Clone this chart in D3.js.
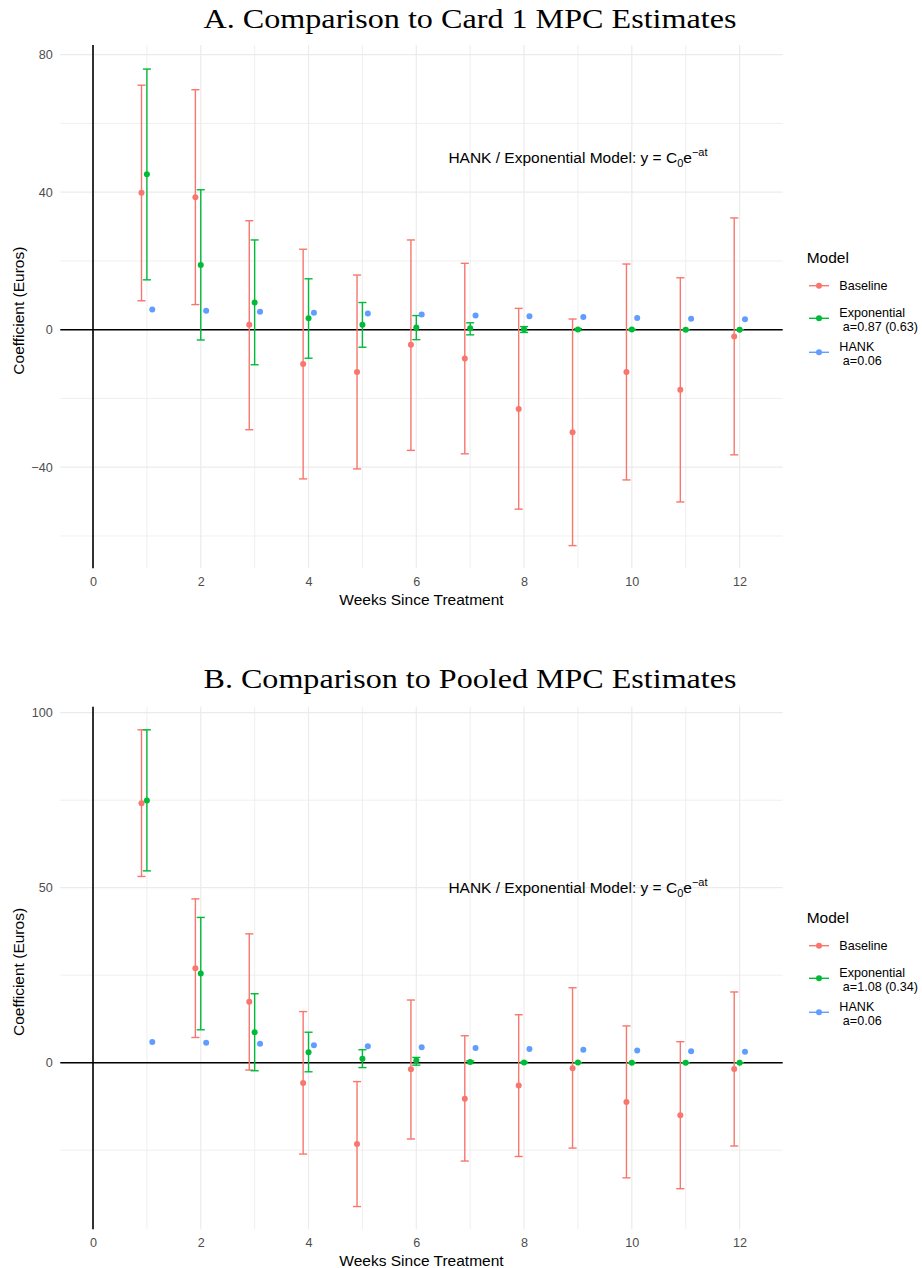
<!DOCTYPE html>
<html><head><meta charset="utf-8">
<script src="https://cdn.jsdelivr.net/npm/d3@7"></script>
<style>body{margin:0;background:#fff}svg{display:block}</style>
</head><body>
<svg id="chart" width="922" height="1268"></svg>
<script>
// ---------- data ----------
const weeks = [1,2,3,4,5,6,7,8,9,10,11,12];
const xTicks = [0,2,4,6,8,10,12];
const xMinor = [1,3,5,7,9,11];
const seriesNames = ["Baseline","Exponential","HANK"];
const seriesColors = ["#F8766D","#00BA38","#619CFF"];
const seriesOffset = [-0.1, 0, 0.1];

// Panel A: Card 1
const titleA = "A. Comparison to Card 1 MPC Estimates";
const yTicksA = [-40,0,40,80];
const yMinorA = [-60,-20,20,60];
const baseA    = [39.8,38.5,1.4,-10.0,-12.3,-4.4,-8.4,-23.1,-29.8,-12.3,-17.5,-2.0];
const baseALo  = [8.4,7.3,-29.1,-43.4,-40.5,-35.1,-36.1,-52.2,-62.8,-43.7,-50.1,-36.4];
const baseAHi  = [71.1,69.8,31.7,23.4,15.9,26.1,19.3,6.2,3.1,19.1,15.1,32.5];
const expA     = [45.2,18.8,7.9,3.3,1.4,0.6,0.4,0.1,0.05,0.02,0.01,0.0];
const expALo   = [14.5,-3.0,-10.2,-8.3,-5.1,-2.9,-1.5,-0.8,-0.2,-0.05,-0.02,-0.01];
const expAHi   = [75.8,40.7,26.1,14.8,7.9,4.1,2.0,0.9,0.3,0.1,0.04,0.01];
const hankA    = [5.9,5.5,5.2,4.9,4.7,4.4,4.1,3.9,3.7,3.4,3.2,3.0];
const legendA  = [["Baseline"],["Exponential"," a=0.87 (0.63)"],["HANK"," a=0.06"]];

// Panel B: Pooled
const titleB = "B. Comparison to Pooled MPC Estimates";
const yTicksB = [0,50,100];
const yMinorB = [-25,25,75];
const baseB    = [74.1,27.0,17.4,-5.8,-23.2,-1.9,-10.3,-6.5,-1.6,-11.2,-15.0,-1.8];
const baseBLo  = [53.2,7.2,-2.1,-26.1,-41.1,-21.8,-28.1,-26.8,-24.4,-32.9,-36.0,-23.8];
const baseBHi  = [95.1,46.8,36.8,14.6,-5.4,17.9,7.7,13.7,21.4,10.5,6.0,20.2];
const expB     = [74.9,25.5,8.7,3.0,1.1,0.6,0.2,0.06,0.02,0.01,0.0,0.0];
const expBLo   = [54.8,9.4,-2.3,-2.6,-1.4,-0.7,-0.2,-0.05,-0.02,-0.01,0.0,0.0];
const expBHi   = [95.1,41.5,19.7,8.7,3.7,1.5,0.5,0.15,0.05,0.02,0.01,0.0];
const hankB    = [5.9,5.7,5.4,5.0,4.7,4.4,4.2,3.9,3.7,3.5,3.3,3.1];
const legendB  = [["Baseline"],["Exponential"," a=1.08 (0.34)"],["HANK"," a=0.06"]];

const annotationX = 9, annotationY = 50;

// ---------- drawing ----------
const svg = d3.select("#chart");
const sans = "'Liberation Sans', Arial, Helvetica, sans-serif";
const serif = "'Liberation Serif', 'DejaVu Serif', serif";

function drawPanel(cfg) {
  const g = svg.append("g");
  const L = 60.3, R = 782.7, T = cfg.top, B = cfg.bottom;
  const x = d3.scaleLinear().domain([-0.607, 12.8]).range([L, R]);
  const y = d3.scaleLinear().domain(cfg.yDomain).range([B, T]);

  // title
  g.append("text").attr("x", 470).attr("y", cfg.titleY)
    .attr("text-anchor","middle").attr("font-family", serif)
    .attr("font-size", 28).attr("fill","#000")
    .attr("textLength", 533).attr("lengthAdjust","spacingAndGlyphs")
    .text(cfg.title);

  // gridlines
  const grid = g.append("g");
  grid.selectAll(".ym").data(cfg.yMinor).join("line")
    .attr("x1", L).attr("x2", R).attr("y1", d=>y(d)).attr("y2", d=>y(d))
    .attr("stroke","#ebebeb").attr("stroke-width",0.8);
  grid.selectAll(".xm").data(xMinor).join("line")
    .attr("x1", d=>x(d)).attr("x2", d=>x(d)).attr("y1", T).attr("y2", B)
    .attr("stroke","#ebebeb").attr("stroke-width",0.8);
  grid.selectAll(".yM").data(cfg.yTicks).join("line")
    .attr("x1", L).attr("x2", R).attr("y1", d=>y(d)).attr("y2", d=>y(d))
    .attr("stroke","#ebebeb").attr("stroke-width",1.2);
  grid.selectAll(".xM").data(xTicks).join("line")
    .attr("x1", d=>x(d)).attr("x2", d=>x(d)).attr("y1", T).attr("y2", B)
    .attr("stroke","#ebebeb").attr("stroke-width",1.2);

  // axes labels via d3 axes
  const ax = g.append("g").attr("transform",`translate(0,${B})`)
    .call(d3.axisBottom(x).tickValues(xTicks).tickSize(0).tickPadding(9.2).tickFormat(d3.format("d")));
  ax.select(".domain").remove();
  ax.selectAll("text").attr("font-family", sans).attr("font-size", 12.6).attr("fill","#4D4D4D");
  const ay = g.append("g").attr("transform",`translate(${L},0)`)
    .call(d3.axisLeft(y).tickValues(cfg.yTicks).tickSize(0).tickPadding(7.6).tickFormat(d => d<0 ? "\u2212"+Math.abs(d) : d));
  ay.select(".domain").remove();
  ay.selectAll("text").attr("font-family", sans).attr("font-size", 12.6).attr("fill","#4D4D4D");

  // axis titles
  g.append("text").attr("x", (L+R)/2).attr("y", B+37)
    .attr("text-anchor","middle").attr("font-family", sans).attr("font-size",15.5)
    .text("Weeks Since Treatment");
  g.append("text").attr("transform",`translate(24,${(T+B)/2+4}) rotate(-90)`)
    .attr("text-anchor","middle").attr("font-family", sans).attr("font-size",15.5)
    .text("Coefficient (Euros)");

  // zero lines
  g.append("line").attr("x1", L).attr("x2", R).attr("y1", y(0)).attr("y2", y(0))
    .attr("stroke","#000").attr("stroke-width",1.6);
  g.append("line").attr("x1", x(0)).attr("x2", x(0)).attr("y1", T).attr("y2", B)
    .attr("stroke","#000").attr("stroke-width",1.6);

  // annotation
  const ann = g.append("text").attr("x", x(annotationX)).attr("y", y(annotationY)+5.5)
    .attr("text-anchor","middle").attr("font-family", sans).attr("font-size",15.5).attr("fill","#000");
  ann.append("tspan").text("HANK / Exponential Model: y = C");
  ann.append("tspan").attr("dy",3.5).attr("font-size",11).text("0");
  ann.append("tspan").attr("dy",-3.5).text("e");
  ann.append("tspan").attr("dy",-7.5).attr("font-size",11).text("\u2212at");

  // series
  const series = [
    {v: cfg.base, lo: cfg.baseLo, hi: cfg.baseHi},
    {v: cfg.exp, lo: cfg.expLo, hi: cfg.expHi},
    {v: cfg.hank, lo: null, hi: null}
  ];
  const hw = 0.075;
  series.forEach((s, si) => {
    if (!s.lo) return;
    const col = seriesColors[si], off = seriesOffset[si];
    const eg = g.append("g").attr("stroke", col).attr("stroke-width",1.4).attr("fill","none");
    weeks.forEach((w, i) => {
      const cx = x(w+off);
      eg.append("line").attr("x1",cx).attr("x2",cx).attr("y1",y(s.lo[i])).attr("y2",y(s.hi[i]));
      eg.append("line").attr("x1",x(w+off-hw)).attr("x2",x(w+off+hw)).attr("y1",y(s.lo[i])).attr("y2",y(s.lo[i]));
      eg.append("line").attr("x1",x(w+off-hw)).attr("x2",x(w+off+hw)).attr("y1",y(s.hi[i])).attr("y2",y(s.hi[i]));
    });
  });
  series.forEach((s, si) => {
    g.append("g").selectAll("circle").data(weeks).join("circle")
      .attr("cx", (w)=>x(w+seriesOffset[si])).attr("cy", (w,i)=>y(s.v[i]))
      .attr("r", 3).attr("fill", seriesColors[si]);
  });

  // legend
  const lg = g.append("g");
  lg.append("text").attr("x",806.7).attr("y",cfg.legTop)
    .attr("font-family", sans).attr("font-size",15.5).text("Model");
  const keyY = [cfg.legTop+22.4, cfg.legTop+55, cfg.legTop+89];
  cfg.legend.forEach((lines, i) => {
    const ky = keyY[i];
    lg.append("line").attr("x1",809).attr("x2",829).attr("y1",ky).attr("y2",ky)
      .attr("stroke",seriesColors[i]).attr("stroke-width",1.4);
    lg.append("circle").attr("cx",819).attr("cy",ky).attr("r",3).attr("fill",seriesColors[i]);
    const t = lg.append("text").attr("font-family", sans).attr("font-size",12.6)
      .attr("xml:space","preserve").style("white-space","pre");
    if (lines.length === 1) {
      t.attr("x",839.3).attr("y",ky+4.5).text(lines[0]);
    } else {
      t.append("tspan").attr("x",839.3).attr("y",ky-1.6).text(lines[0]);
      t.append("tspan").attr("x",839.3).attr("y",ky+12.2).text(lines[1]);
    }
  });
}

drawPanel({
  top: 45, bottom: 568.3, yDomain: [-69.4, 82.8], titleY: 27.5, title: titleA,
  yTicks: yTicksA, yMinor: yMinorA,
  base: baseA, baseLo: baseALo, baseHi: baseAHi,
  exp: expA, expLo: expALo, expHi: expAHi, hank: hankA,
  legend: legendA, legTop: 263.3
});
drawPanel({
  top: 706.7, bottom: 1229.3, yDomain: [-47.6, 101.7], titleY: 688, title: titleB,
  yTicks: yTicksB, yMinor: yMinorB,
  base: baseB, baseLo: baseBLo, baseHi: baseBHi,
  exp: expB, expLo: expBLo, expHi: expBHi, hank: hankB,
  legend: legendB, legTop: 923.3
});
</script>
</body></html>
